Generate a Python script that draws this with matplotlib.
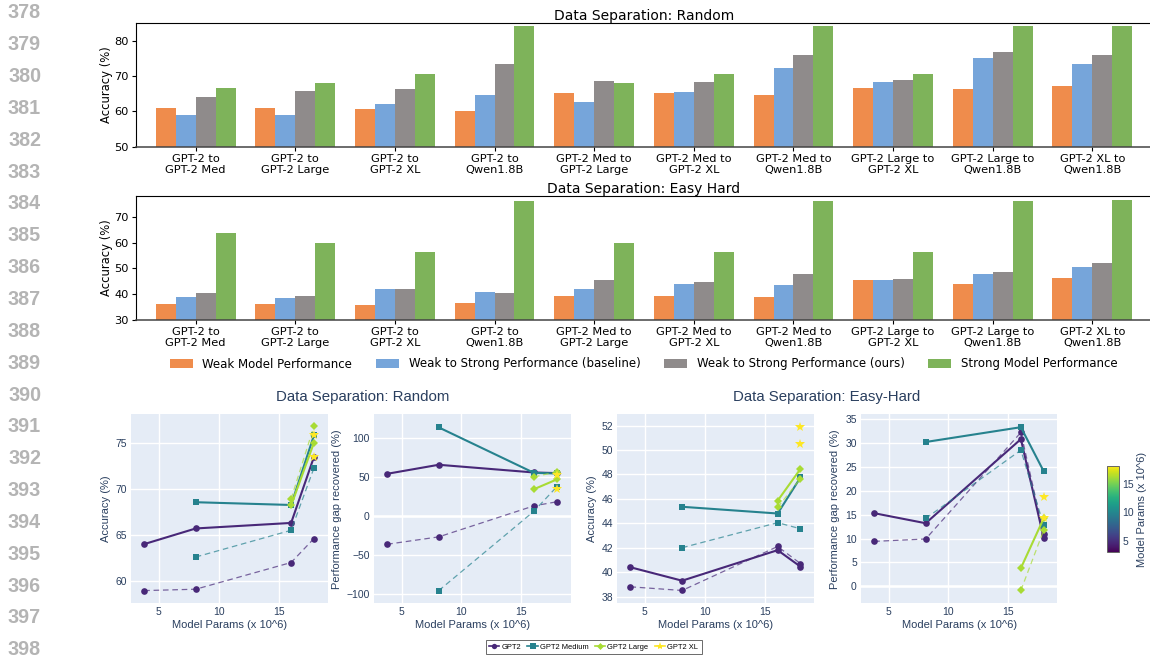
import matplotlib
matplotlib.use("Agg")
import matplotlib.pyplot as plt
import numpy as np
from matplotlib.lines import Line2D
from matplotlib.colors import Normalize
from matplotlib.cm import ScalarMappable

# ---------------- bar charts: weak-to-strong accuracy ----------------
pairs = ["GPT-2 to\nGPT-2 Med", "GPT-2 to\nGPT-2 Large", "GPT-2 to\nGPT-2 XL",
         "GPT-2 to\nQwen1.8B", "GPT-2 Med to\nGPT-2 Large", "GPT-2 Med to\nGPT-2 XL",
         "GPT-2 Med to\nQwen1.8B", "GPT-2 Large to\nGPT-2 XL", "GPT-2 Large to\nQwen1.8B",
         "GPT-2 XL to\nQwen1.8B"]
bar_labels = ["Weak Model Performance", "Weak to Strong Performance (baseline)",
              "Weak to Strong Performance (ours)", "Strong Model Performance"]

rand_weak = [61.0, 61.0, 60.8, 60.2, 65.3, 65.1, 64.7, 66.7, 66.4, 67.3]
rand_base = [59.0, 59.1, 62.0, 64.6, 62.6, 65.5, 72.2, 68.2, 75.0, 73.5]
rand_ours = [64.0, 65.7, 66.3, 73.4, 68.5, 68.3, 75.8, 68.9, 76.8, 75.9]
rand_strong = [66.5, 68.1, 70.7, 84.0, 68.1, 70.7, 84.0, 70.7, 84.0, 84.0]

easy_weak = [36.1, 36.1, 35.7, 36.5, 39.2, 39.2, 38.8, 45.5, 43.9, 46.2]
easy_base = [38.8, 38.5, 42.1, 40.7, 42.0, 44.0, 43.5, 45.3, 47.7, 50.5]
easy_ours = [40.4, 39.3, 41.8, 40.4, 45.3, 44.8, 47.8, 45.8, 48.5, 51.9]
easy_strong = [63.8, 59.9, 56.4, 76.2, 59.9, 56.4, 76.2, 56.4, 76.2, 76.6]

# ---------------- line panels: results by weak model ----------------
model_names = ["GPT2", "GPT2 Medium", "GPT2 Large", "GPT2 XL"]
strong_params = [3.8, 8.1, 16.05, 17.95]   # x position of each strong target
first_target = [0, 1, 2, 3]                # index of the first strong target per weak model

acc_rand_solid = [[64.0, 65.7, 66.3, 73.45], [68.55, 68.25, 75.8], [68.2, 75.0], [75.9]]
acc_rand_dash = [[58.95, 59.1, 62.0, 64.6], [62.6, 65.5, 72.25], [68.9, 76.8], [73.5]]
pgr_rand_solid = [[54.5, 66.1, 56.2, 55.4], [114.2, 55.7, 54.9], [34.7, 47.2], [52.7]]
pgr_rand_dash = [[-36.1, -26.6, 13.3, 18.5], [-95.7, 6.4, 37.7], [50.5, 57.0], [35.6]]

acc_easy_solid = [[40.4, 39.3, 41.8, 40.45], [45.35, 44.8, 47.75], [45.85, 48.45], [51.85]]
acc_easy_dash = [[38.8, 38.5, 42.1, 40.7], [42.0, 44.05, 43.55], [45.3, 47.65], [50.45]]
pgr_easy_solid = [[15.3, 13.2, 30.8, 10.2], [30.2, 33.3, 24.1], [3.8, 14.2], [18.7]]
pgr_easy_dash = [[9.4, 9.9, 32.2, 11.0], [14.2, 28.5, 12.8], [-0.85, 11.7], [14.2]]

cbar_range = (2.95, 18.2)
cbar_ticks = [5, 10, 15]
page_lines = list(range(378, 399))

# ---------------- styling ----------------
C_WEAK, C_BASE, C_OURS, C_STRONG = "#EF8C4C", "#76A5DA", "#8F8B8B", "#7EB35A"
MODEL_COLORS = ["#482878", "#26828e", "#a8db34", "#fde725"]
MODEL_MARKERS = ["o", "s", "D", "*"]
MODEL_MS = [4.8, 4.6, 4.4, 7.5]
PLOT_BG = "#E5ECF6"
FONT_C = "#2a3f5f"
SANS = "Liberation Sans"

W, H = 1150, 657
fig = plt.figure(figsize=(W / 100, H / 100), dpi=100)


def place(x0, y0, x1, y1):
    return fig.add_axes([x0 / W, 1 - y1 / H, (x1 - x0) / W, (y1 - y0) / H])


def fx(x):
    return x / W


def fy(y):
    return 1 - y / H


# page line numbers
for i, n in enumerate(page_lines):
    fig.text(fx(24.5), fy(12.8 + 31.85 * i), str(n), ha="center", va="center",
             fontsize=14.2, fontweight="bold", color="#b4b4b4", family=SANS)


def bar_panel(ax, series, title, ylim, yticks):
    x = np.arange(len(pairs))
    w = 0.2
    colors = [C_WEAK, C_BASE, C_OURS, C_STRONG]
    bottom = ylim[0]
    for k, (vals, col, lab) in enumerate(zip(series, colors, bar_labels)):
        v = np.asarray(vals)
        ax.bar(x + (k - 1.5) * w, v - bottom, w, bottom=bottom, color=col, label=lab)
    ax.set_xlim(-0.6, 9.6)
    ax.set_ylim(*ylim)
    ax.set_yticks(yticks)
    ax.set_xticks(x)
    ax.set_xticklabels(pairs, fontsize=8.2)
    ax.tick_params(axis="y", labelsize=8.2, length=3, pad=2)
    ax.tick_params(axis="x", length=3, pad=2)
    ax.set_ylabel("Accuracy (%)", fontsize=8.4, labelpad=1)
    ax.set_title(title, fontsize=10, pad=2)
    ax.spines["right"].set_visible(False)
    ax.spines["bottom"].set_color("#444444")
    ax.spines["bottom"].set_linewidth(1.1)


ax_top = place(135.9, 23.3, 1152.1, 146.7)
bar_panel(ax_top, [rand_weak, rand_base, rand_ours, rand_strong],
          "Data Separation: Random", (50, 84.9), [50, 60, 70, 80])

ax_mid = place(135.9, 196.0, 1152.1, 319.7)
bar_panel(ax_mid, [easy_weak, easy_base, easy_ours, easy_strong],
          "Data Separation: Easy Hard", (30, 78.2), [30, 40, 50, 60, 70])

handles, labels = ax_mid.get_legend_handles_labels()
fig.legend(handles, labels, loc="center", bbox_to_anchor=(fx(643.5), fy(364)),
           ncol=4, frameon=False, fontsize=8.45)


# ---------------- plotly-style line panels ----------------
def line_panel(ax, solid, dashed, ylim, yticks, ylabel):
    ax.set_facecolor(PLOT_BG)
    for s in ax.spines.values():
        s.set_visible(False)
    ax.set_xlim(2.7, 19.1)
    ax.set_ylim(*ylim)
    ax.set_xticks([5, 10, 15])
    ax.set_yticks(yticks)
    ax.grid(True, color="white", lw=1.0)
    ax.set_axisbelow(True)
    if ylim[0] < 0 < ylim[1]:
        ax.axhline(0, color="white", lw=1.8, zorder=0.6)
    ax.tick_params(length=0, labelsize=7.5, labelcolor=FONT_C)
    ax.tick_params(axis="x", pad=2.5)
    ax.tick_params(axis="y", pad=3)
    for lab in ax.get_xticklabels() + ax.get_yticklabels():
        lab.set_family(SANS)
    ax.set_xlabel("Model Params (x 10^6)", fontsize=8, color=FONT_C, family=SANS, labelpad=2.5)
    ax.set_ylabel(ylabel, fontsize=8, color=FONT_C, family=SANS, labelpad=3.4)
    for m in range(len(model_names)):
        xs = strong_params[first_target[m]:]
        col = MODEL_COLORS[m]
        mk = MODEL_MARKERS[m]
        ms = MODEL_MS[m]
        ax.plot(xs, solid[m], color=col, lw=1.5, marker=mk, ms=ms, mec=col, mew=0)
        ax.plot(xs, dashed[m], color=col, lw=0.9, ls=(0, (4.5, 3)), alpha=0.7)
        ax.plot(xs, dashed[m], color=col, lw=0, marker=mk, ms=ms, mec=col, mew=0)


y_top, y_bot = 414.3, 603.3
ax_p1 = place(131.0, y_top, 327.7, y_bot)
line_panel(ax_p1, acc_rand_solid, acc_rand_dash, (57.57, 78.1), [60, 65, 70, 75], "Accuracy (%)")
ax_p2 = place(374.0, y_top, 570.5, y_bot)
line_panel(ax_p2, pgr_rand_solid, pgr_rand_dash, (-112, 131), [-100, -50, 0, 50, 100],
           "Performance gap recovered (%)")
ax_p3 = place(617.2, y_top, 814.3, y_bot)
line_panel(ax_p3, acc_easy_solid, acc_easy_dash, (37.45, 52.92), list(range(38, 53, 2)),
           "Accuracy (%)")
ax_p4 = place(861.0, y_top, 1057.4, y_bot)
line_panel(ax_p4, pgr_easy_solid, pgr_easy_dash, (-3.56, 36.0), list(range(0, 36, 5)),
           "Performance gap recovered (%)")

fig.text(fx(362.5), fy(401.4), "Data Separation: Random", ha="center", va="baseline",
         fontsize=10.8, color=FONT_C, family=SANS)
fig.text(fx(826.2), fy(401.4), "Data Separation: Easy-Hard", ha="center", va="baseline",
         fontsize=10.8, color=FONT_C, family=SANS)

# colour bar for model size
cax = place(1107.3, 465.7, 1119.0, 552.3)
cb = fig.colorbar(ScalarMappable(norm=Normalize(*cbar_range), cmap="viridis"), cax=cax)
cb.set_ticks(cbar_ticks)
cb.ax.tick_params(length=0, labelsize=7.5, labelcolor=FONT_C, pad=2.5)
for lab in cb.ax.get_yticklabels():
    lab.set_family(SANS)
cb.outline.set_edgecolor("#666666")
cb.outline.set_linewidth(0.7)
fig.text(fx(1141.7), fy(509), "Model Params (x 10^6)", rotation=90, ha="center", va="center",
         fontsize=8, color=FONT_C, family=SANS)

# legend for the line panels
leg_handles = [Line2D([0], [0], color=MODEL_COLORS[m], lw=1.2, marker=MODEL_MARKERS[m],
                      ms=MODEL_MS[m] * 0.8, mew=0) for m in range(len(model_names))]
leg = fig.legend(leg_handles, model_names, loc="center", bbox_to_anchor=(fx(593.5), fy(647)),
                 ncol=4, frameon=True, fancybox=False, edgecolor="#444444",
                 handlelength=1.4, handletextpad=0.3, columnspacing=0.8, borderpad=0.45,
                 prop={"family": SANS, "size": 5.4})
leg.get_frame().set_linewidth(0.7)

fig.savefig("out.png", dpi=100)
